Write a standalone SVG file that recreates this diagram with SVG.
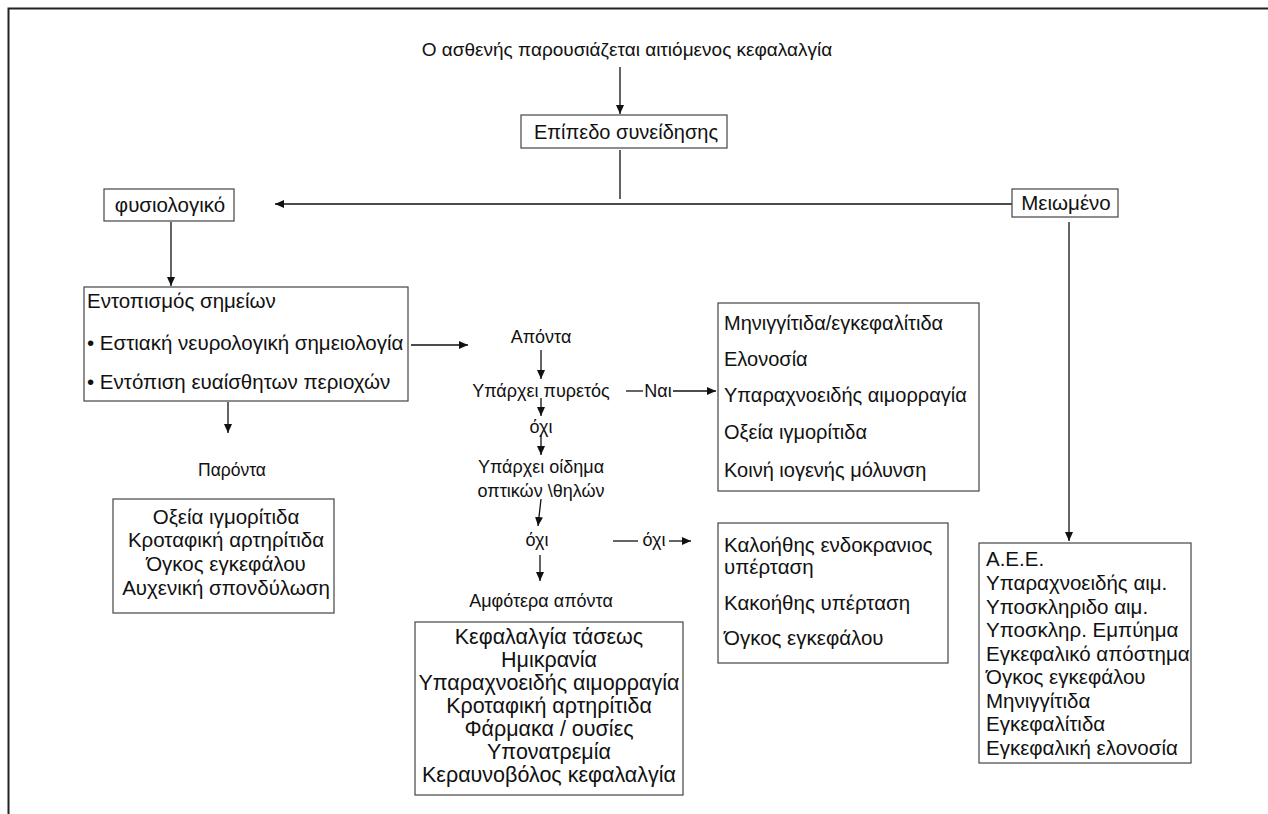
<svg xmlns="http://www.w3.org/2000/svg" width="1268" height="814" viewBox="0 0 1268 814">
<defs>
<marker id="ah" markerWidth="10" markerHeight="8" refX="9" refY="4" orient="auto" markerUnits="userSpaceOnUse">
<path d="M0,0 L9,4 L0,8 Z" fill="#111"/>
</marker>
<style>
text{font-family:"Liberation Sans",Arial,sans-serif;font-size:20.5px;fill:#111}
.c{text-anchor:middle}
.m{font-size:18px}
.t{font-size:19px}
.b{font-size:21.5px}
.s{font-size:20px}
.p{font-size:17.5px}
.box{fill:#fff;stroke:#444;stroke-width:1.2}
.ln{stroke:#111;stroke-width:1.3;fill:none}
.ar{stroke:#111;stroke-width:1.3;fill:none;marker-end:url(#ah)}
</style>
</defs>
<rect x="0" y="0" width="1268" height="814" fill="#fff"/>
<path d="M8.5,814 V8.5 H1268" fill="none" stroke="#222" stroke-width="2"/>

<g id="connectors">
<line class="ar" x1="620" y1="67" x2="620" y2="114"/>
<line class="ln" x1="620" y1="150" x2="620" y2="199"/>
<line class="ar" x1="1012" y1="204" x2="275" y2="204"/>
<line class="ar" x1="171" y1="222" x2="171" y2="286"/>
<line class="ar" x1="228" y1="402" x2="228" y2="433"/>
<line class="ar" x1="411" y1="345" x2="468" y2="345"/>
<line class="ar" x1="541" y1="350" x2="541" y2="379"/>
<line class="ar" x1="541" y1="398" x2="541" y2="416"/>
<line class="ar" x1="541" y1="435" x2="541" y2="455"/>
<line class="ar" x1="541" y1="499" x2="538" y2="526"/>
<line class="ar" x1="540" y1="555" x2="540" y2="581"/>
<line class="ln" x1="626" y1="391" x2="643" y2="391"/>
<line class="ar" x1="673" y1="391" x2="716" y2="391"/>
<line class="ln" x1="613" y1="541" x2="638" y2="541"/>
<line class="ar" x1="669" y1="541" x2="691" y2="541"/>
<line class="ar" x1="1069" y1="222" x2="1069" y2="541"/>
</g>

<g id="title"><text class="c t" x="627" y="56">Ο ασθενής παρουσιάζεται αιτιόμενος κεφαλαλγία</text></g>

<g id="consciousness"><rect class="box" x="521" y="115" width="206" height="33"/><text class="c s" x="626" y="139">Επίπεδο συνείδησης</text></g>

<g id="normal"><rect class="box" x="104" y="189" width="130" height="32"/><text class="c" x="170" y="212">φυσιολογικό</text></g>

<g id="reduced"><rect class="box" x="1012" y="189" width="106" height="28"/><text class="c" x="1066" y="210">Μειωμένο</text></g>

<g id="signs"><rect class="box" x="84" y="287" width="324" height="114"/>
<text x="87" y="308">Εντοπισμός σημείων</text>
<text x="87" y="350">• Εστιακή νευρολογική σημειολογία</text>
<text x="87" y="389">• Εντόπιση ευαίσθητων περιοχών</text></g>

<g id="present"><text class="c p" x="232" y="476">Παρόντα</text></g>

<g id="present-list"><rect class="box" x="113" y="499" width="221" height="114"/>
<text class="c" x="226" y="524">Οξεία ιγμορίτιδα</text>
<text class="c" x="226" y="547">Κροταφική αρτηρίτιδα</text>
<text class="c" x="226" y="571">Όγκος εγκεφάλου</text>
<text class="c" x="226" y="595">Αυχενική σπονδύλωση</text></g>

<g id="absent"><text class="c m" x="541" y="343">Απόντα</text></g>
<g id="fever"><text class="c m" x="541" y="397">Υπάρχει πυρετός</text></g>
<g id="yes"><text class="c m" x="658" y="397">Ναι</text></g>
<g id="no1"><text class="c m" x="541" y="433">όχι</text></g>
<g id="papilledema"><text class="c m" x="541" y="473">Υπάρχει οίδημα</text><text class="c m" x="541" y="497">οπτικών \θηλών</text></g>
<g id="no2"><text class="c m" x="537" y="546">όχι</text></g>
<g id="no3"><text class="c m" x="654" y="546">όχι</text></g>
<g id="both-absent"><text class="c m" x="541" y="607">Αμφότερα απόντα</text></g>

<g id="fever-list"><rect class="box" x="718" y="303" width="261" height="188"/>
<text class="s" x="724" y="330">Μηνιγγίτιδα/εγκεφαλίτιδα</text>
<text class="s" x="724" y="366">Ελονοσία</text>
<text class="s" x="724" y="402">Υπαραχνοειδής αιμορραγία</text>
<text class="s" x="724" y="439">Οξεία ιγμορίτιδα</text>
<text class="s" x="724" y="477">Κοινή ιογενής μόλυνση</text></g>

<g id="papilledema-list"><rect class="box" x="718" y="523" width="230" height="140"/>
<text x="724" y="552">Καλοήθης ενδοκρανιος</text>
<text x="724" y="574">υπέρταση</text>
<text x="724" y="610">Κακοήθης υπέρταση</text>
<text x="724" y="645">Όγκος εγκεφάλου</text></g>

<g id="both-list"><rect class="box" x="415" y="622" width="268" height="173"/>
<text class="c b" x="549" y="644">Κεφαλαλγία τάσεως</text>
<text class="c b" x="549" y="667">Ημικρανία</text>
<text class="c b" x="549" y="690">Υπαραχνοειδής αιμορραγία</text>
<text class="c b" x="549" y="713">Κροταφική αρτηρίτιδα</text>
<text class="c b" x="549" y="736">Φάρμακα / ουσίες</text>
<text class="c b" x="549" y="759">Υπονατρεμία</text>
<text class="c b" x="549" y="782">Κεραυνοβόλος κεφαλαλγία</text></g>

<g id="reduced-list"><rect class="box" x="979" y="543" width="212" height="220"/>
<text x="986" y="566">Α.Ε.Ε.</text>
<text x="986" y="590">Υπαραχνοειδής αιμ.</text>
<text x="986" y="614">Υποσκληριδο αιμ.</text>
<text x="986" y="637">Υποσκληρ. Εμπύημα</text>
<text x="986" y="661">Εγκεφαλικό απόστημα</text>
<text x="986" y="684">Όγκος εγκεφάλου</text>
<text x="986" y="708">Μηνιγγίτιδα</text>
<text x="986" y="731">Εγκεφαλίτιδα</text>
<text x="986" y="755">Εγκεφαλική ελονοσία</text></g>
</svg>
